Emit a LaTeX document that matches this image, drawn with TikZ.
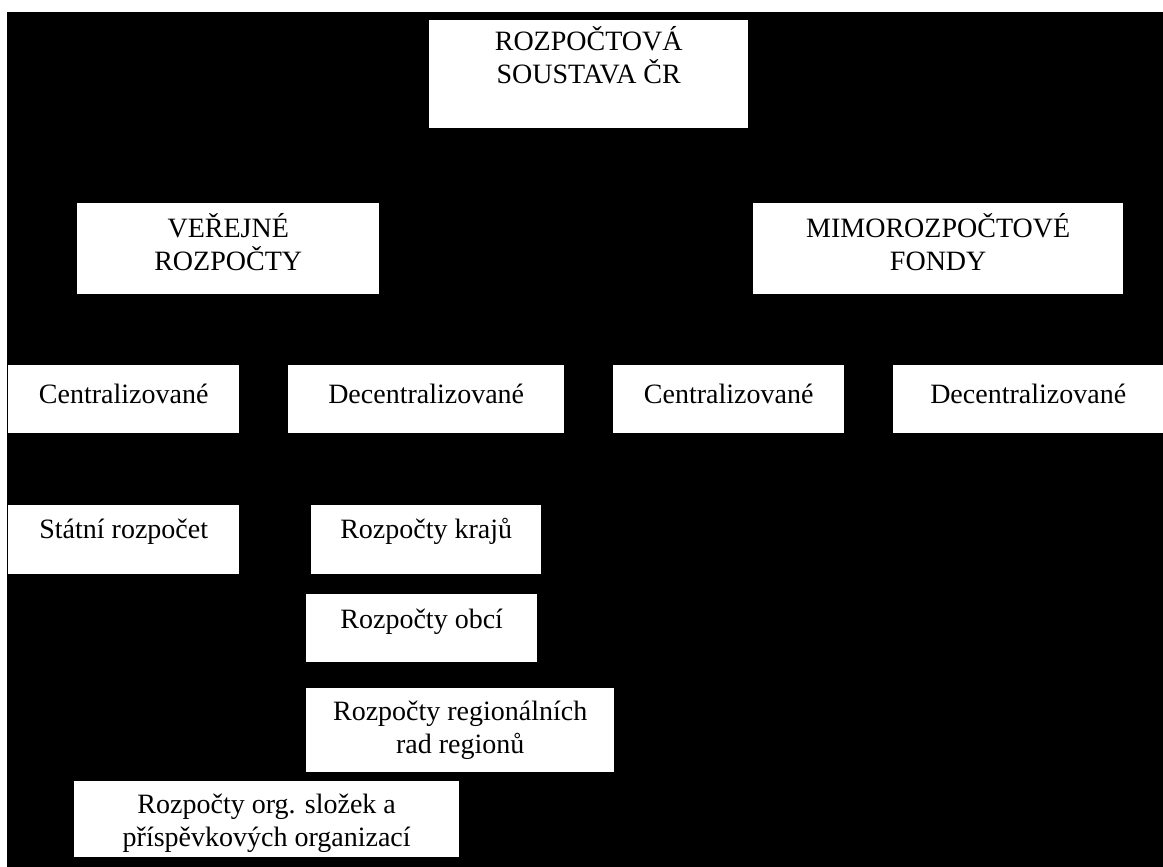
\documentclass[tikz,border=0pt]{standalone}
\usepackage{fontspec}
\setmainfont{Liberation Serif}

\begin{document}
\begin{tikzpicture}[
	x=1pt, y=-1pt,
	b/.style={fill=white, inner sep=0pt, anchor=north west, align=center, font=\fontsize{28}{33.5}\selectfont},
	r/.style={b, minimum height=68pt, text height=18pt, text depth=10pt},
	s/.style={b, minimum height=69pt, text height=16pt, text depth=19pt}
]
	\useasboundingbox (0,0) rectangle (1163,867);
	\fill[white] (0,0) rectangle (1163,867);
	\fill[black] (7,12) rectangle (1163,867);

	\node[b, minimum width=319pt, minimum height=108pt, text height=40pt, text depth=21pt] (RS) at (429,20) {ROZPOČTOVÁ\\SOUSTAVA ČR};

	\node[b, minimum width=302pt, minimum height=91pt, text height=54pt, text depth=10pt] (VR) at (77,203) {VEŘEJNÉ\\ROZPOČTY};
	\node[b, minimum width=370pt, minimum height=91pt, text height=54pt, text depth=10pt] (MF) at (753,203) {MIMOROZPOČTOVÉ\\FONDY};

	\node[r, minimum width=231pt] (VC) at (8,365) {Centralizované};
	\node[r, minimum width=276pt] (VD) at (288,365) {Decentralizované};
	\node[r, minimum width=231pt] (MC) at (613,365) {Centralizované};
	\node[r, minimum width=270pt] (MD) at (893,365) {Decentralizované};

	\node[s, minimum width=231pt] (SR) at (8,505) {Státní rozpočet};
	\node[s, minimum width=230pt] (RK) at (311,505) {Rozpočty krajů};
	\node[b, minimum width=231pt, minimum height=68pt, text height=18pt, text depth=18pt] (RO) at (306,594) {Rozpočty obcí};
	\node[b, minimum width=308pt, minimum height=84pt, text height=57pt, text depth=10pt] (RR) at (306,688) {Rozpočty regionálních\\rad regionů};
	\node[b, minimum width=385pt, minimum height=76pt, text height=60pt, text depth=5pt] (OS) at (74,781) {Rozpočty org. složek a\\příspěvkových organizací};
\end{tikzpicture}
\end{document}
